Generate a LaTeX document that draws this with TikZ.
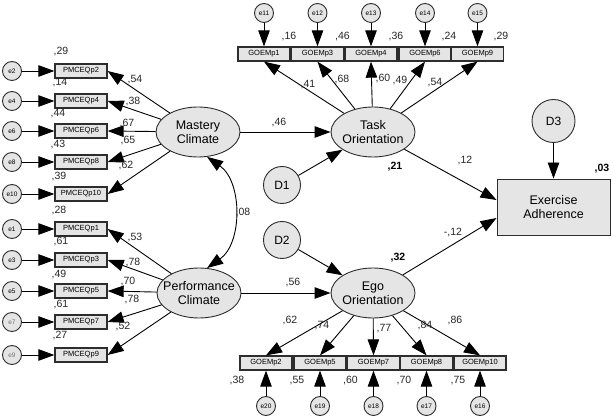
\documentclass[tikz,border=0pt]{standalone}
\usepackage{fontspec}
\setmainfont{Liberation Sans}
\usepackage{tikz}
\usetikzlibrary{shapes.geometric}
\usetikzlibrary{arrows.meta}

\definecolor{boxfill}{RGB}{229,229,229}
\definecolor{edge}{RGB}{45,45,45}

\begin{document}
\begin{tikzpicture}[x=1pt, y=-1pt, line width=0.9pt,
	err/.style={circle, draw=edge, fill=boxfill, minimum size=19pt, inner sep=0pt, font=\fontsize{6.5}{6.5}\selectfont},
	item/.style={rectangle, draw=edge, line width=1.3pt, fill=boxfill, minimum width=52pt, minimum height=14pt, inner sep=0pt, font=\fontsize{7.5}{8}\selectfont},
	latent/.style={ellipse, draw=edge, fill=boxfill, minimum width=84pt, minimum height=50pt, inner xsep=-9pt, inner ysep=0pt, align=center, font=\fontsize{12.5}{14}\selectfont},
	dist/.style={circle, draw=edge, fill=boxfill, minimum size=37pt, inner sep=0pt, font=\fontsize{12}{12}\selectfont},
	coef/.style={inner sep=0pt, font=\fontsize{10.5}{10.5}\selectfont, text=black!85},
	rsq/.style={inner sep=0pt, font=\fontsize{10.5}{10.5}\selectfont\bfseries},
	link/.style={-{Triangle[length=16pt,width=11.5pt]}, draw=black},
	both/.style={{Triangle[length=16pt,width=11.5pt]}-{Triangle[length=16pt,width=11.5pt]}, draw=black}]
	\useasboundingbox (0,0) rectangle (613,419);

	% latent variables
	\node[latent] (mc) at (198,132) {Mastery\\Climate};
	\node[latent] (pc) at (199,293) {Performance\\Climate};
	\node[latent] (to) at (373,132) {Task\\Orientation};
	\node[latent] (eo) at (373,293) {Ego\\Orientation};
	\node[rectangle, draw=edge, fill=boxfill, minimum width=113pt, minimum height=56pt, align=center, font=\fontsize{12.5}{14}\selectfont] (ea) at (553.5,207) {Exercise\\Adherence};
	\node[dist] (d1) at (282,185) {D1};
	\node[dist] (d2) at (282,240) {D2};
	\node[dist, minimum size=43pt] (d3) at (553.5,121) {D3};

	% mastery climate items
	\node[err] (e2) at (12,71) {e2};
	\node[item] (p2) at (81,71) {PMCEQp2};
	\node[err] (e4) at (12,101) {e4};
	\node[item] (p4) at (81,101) {PMCEQp4};
	\node[err] (e6) at (12,131) {e6};
	\node[item] (p6) at (81,131) {PMCEQp6};
	\node[err] (e8) at (12,162) {e8};
	\node[item] (p8) at (81,162) {PMCEQp8};
	\node[err] (e10) at (12,194) {e10};
	\node[item] (p10) at (81,194) {PMCEQp10};

	% performance climate items
	\node[err] (e1) at (12,229) {e1};
	\node[item] (p1) at (81,229) {PMCEQp1};
	\node[err] (e3) at (12,260) {e3};
	\node[item] (p3) at (81,260) {PMCEQp3};
	\node[err] (e5) at (12,291) {e5};
	\node[item] (p5) at (81,291) {PMCEQp5};
	\node[err, text=black!55] (e7) at (12,322) {e7};
	\node[item] (p7) at (81,322) {PMCEQp7};
	\node[err, text=black!55] (e9) at (12,355) {e9};
	\node[item] (p9) at (81,355) {PMCEQp9};

	% task orientation items
	\node[err] (e11) at (264,13) {e11};
	\node[item] (g1) at (264,54) {GOEMp1};
	\node[err] (e12) at (317.5,13) {e12};
	\node[item] (g3) at (317.5,54) {GOEMp3};
	\node[err] (e13) at (371,13) {e13};
	\node[item] (g4) at (371,54) {GOEMp4};
	\node[err] (e14) at (425,13) {e14};
	\node[item] (g6) at (425,54) {GOEMp6};
	\node[err] (e15) at (477.5,13) {e15};
	\node[item] (g9) at (477.5,54) {GOEMp9};

	% ego orientation items
	\node[item] (g2) at (266,363) {GOEMp2};
	\node[err] (e20) at (266,406) {e20};
	\node[item] (g5) at (320,363) {GOEMp5};
	\node[err] (e19) at (320,406) {e19};
	\node[item] (g7) at (373.5,363) {GOEMp7};
	\node[err] (e18) at (373.5,406) {e18};
	\node[item] (g8) at (426.5,363) {GOEMp8};
	\node[err] (e17) at (426.5,406) {e17};
	\node[item] (g10) at (480,363) {GOEMp10};
	\node[err] (e16) at (480,406) {e16};

	% error terms
	\draw[link] (e2) -- (p2);
	\draw[link] (e4) -- (p4);
	\draw[link] (e6) -- (p6);
	\draw[link] (e8) -- (p8);
	\draw[link] (e10) -- (p10);
	\draw[link] (e1) -- (p1);
	\draw[link] (e3) -- (p3);
	\draw[link] (e5) -- (p5);
	\draw[link] (e7) -- (p7);
	\draw[link] (e9) -- (p9);
	\draw[link] (e11) -- (g1);
	\draw[link] (e12) -- (g3);
	\draw[link] (e13) -- (g4);
	\draw[link] (e14) -- (g6);
	\draw[link] (e15) -- (g9);
	\draw[link] (e20) -- (g2);
	\draw[link] (e19) -- (g5);
	\draw[link] (e18) -- (g7);
	\draw[link] (e17) -- (g8);
	\draw[link] (e16) -- (g10);

	% loadings
	\draw[link] (mc) -- (p2.east);
	\draw[link] (mc) -- (p4.east);
	\draw[link] (mc) -- (p6.east);
	\draw[link] (mc) -- (p8.east);
	\draw[link] (mc) -- (p10.east);
	\draw[link] (pc) -- (p1.east);
	\draw[link] (pc) -- (p3.east);
	\draw[link] (pc) -- (p5.east);
	\draw[link] (pc) -- (p7.east);
	\draw[link] (pc) -- (p9.east);
	\draw[link] (to) -- (g1.south);
	\draw[link] (to) -- (g3.south);
	\draw[link] (to) -- (g4.south);
	\draw[link] (to) -- (g6.south);
	\draw[link] (to) -- (g9.south);
	\draw[link] (eo) -- (g2.north);
	\draw[link] (eo) -- (g5.north);
	\draw[link] (eo) -- (g7.north);
	\draw[link] (eo) -- (g8.north);
	\draw[link] (eo) -- (g10.north);

	% structural paths
	\draw[both] (mc.290) to[out=-35, in=35] (pc.72);
	\draw[link] (mc) -- (to);
	\draw[link] (pc) -- (eo);
	\draw[link] (d1) -- (to);
	\draw[link] (d2) -- (eo);
	\draw[link] (d3) -- (ea);
	\draw[link] (to) -- ([yshift=7pt]ea.west);
	\draw[link] (eo) -- ([yshift=-11pt]ea.west);

	% squared multiple correlations
	\node[coef] (r2) at (61,52) {,29};
	\node[coef] (r4) at (60,83) {,14};
	\node[coef] (r6) at (58,114) {,44};
	\node[coef] (r8) at (58,145) {,43};
	\node[coef] (r10) at (59,177) {,39};
	\node[coef] (r1) at (59,211) {,28};
	\node[coef] (r3) at (61,242) {,61};
	\node[coef] (r5) at (59,275) {,49};
	\node[coef] (r7) at (61,305) {,61};
	\node[coef] (r9) at (60,336) {,27};
	\node[coef] (rg1) at (289,37) {,16};
	\node[coef] (rg3) at (342.5,37) {,46};
	\node[coef] (rg4) at (396,37) {,36};
	\node[coef] (rg6) at (449,37) {,24};
	\node[coef] (rg9) at (501,37) {,29};
	\node[coef] (rg2) at (237,381) {,38};
	\node[coef] (rg5) at (297,381) {,55};
	\node[coef] (rg7) at (350.5,381) {,60};
	\node[coef] (rg8) at (404,381) {,70};
	\node[coef] (rg10) at (458,381) {,75};
	\node[rsq] (rto) at (395,167) {,21};
	\node[rsq] (reo) at (398,258) {,32};
	\node[rsq] (rea) at (602,169) {,03};

	% path coefficients
	\node[coef] (l2) at (135,80) {,54};
	\node[coef] (l4) at (133,102) {,38};
	\node[coef] (l6) at (127,124) {,67};
	\node[coef] (l8) at (128,141) {,65};
	\node[coef] (l10) at (126,166) {,62};
	\node[coef] (l1) at (135,238) {,53};
	\node[coef] (l3) at (133,263) {,78};
	\node[coef] (l5) at (128,282) {,70};
	\node[coef] (l7) at (132,300) {,78};
	\node[coef] (l9) at (123,327) {,52};
	\node[coef] (lg1) at (308,85) {,41};
	\node[coef] (lg3) at (342,80) {,68};
	\node[coef] (lg4) at (383,79) {,60};
	\node[coef] (lg6) at (400,81) {,49};
	\node[coef] (lg9) at (435,83) {,54};
	\node[coef] (lg2) at (290,321) {,62};
	\node[coef] (lg5) at (322,326) {,74};
	\node[coef] (lg7) at (384,329) {,77};
	\node[coef] (lg8) at (425,326) {,84};
	\node[coef] (lg10) at (455,321) {,86};
	\node[coef] (cov) at (243,213) {,08};
	\node[coef] (bmt) at (279,123) {,46};
	\node[coef] (bpe) at (293,283) {,56};
	\node[coef] (bte) at (465,161) {,12};
	\node[coef] (bee) at (453,233) {-,12};
\end{tikzpicture}
\end{document}
